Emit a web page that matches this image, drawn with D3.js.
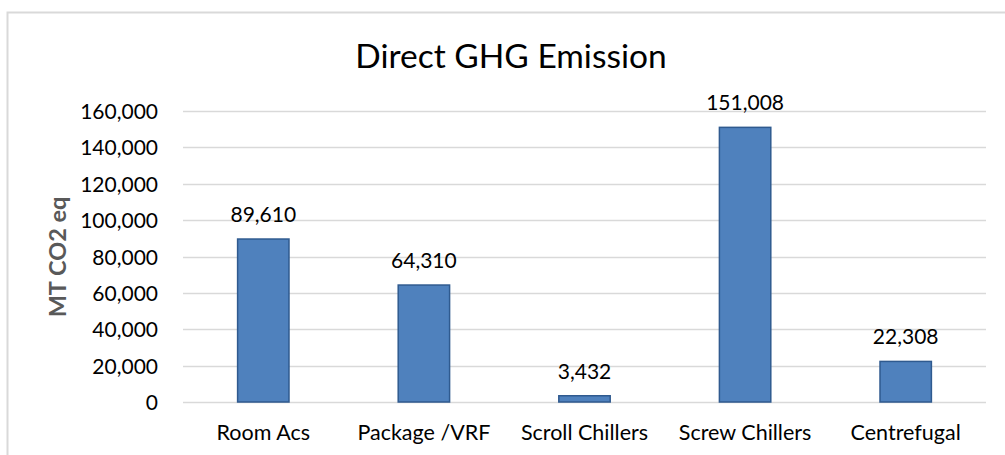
<!DOCTYPE html>
<html><head><meta charset="utf-8">
<script src="https://cdn.jsdelivr.net/npm/d3@7"></script>
<style>html,body{margin:0;padding:0;background:#fff;}svg{display:block;}</style>
</head><body>
<svg id="chart" width="1005" height="455"></svg>
<script>
const categories = ["Room Acs", "Package /VRF", "Scroll Chillers", "Screw Chillers", "Centrefugal"];
const values = [89610, 64310, 3432, 151008, 22308];
const yTicks = [0, 20000, 40000, 60000, 80000, 100000, 120000, 140000, 160000];
const title = "Direct GHG Emission";
const yTitle = "MT CO2 eq";

const FONT = "Lato, 'Open Sans', sans-serif";
const svg = d3.select("#chart");
const m = {left: 183, right: 1005 - 986, top: 111, bottom: 455 - 402};
const W = 1005, H = 455;

// frame
svg.append("path").attr("d", `M7.5,${H}V12.5H${W}`).attr("fill","none").attr("stroke","#d9d9d9").attr("stroke-width",2);

const x = d3.scaleBand().domain(categories).range([m.left, W - m.right]).paddingInner(0.68).paddingOuter(0.34);
const y = d3.scaleLinear().domain([0, 160000]).range([H - m.bottom, m.top]);
const fmt = d3.format(",");

// gridlines
svg.append("g").selectAll("line").data(yTicks).join("line")
  .attr("x1", m.left).attr("x2", W - m.right)
  .attr("y1", d => Math.round(y(d)) + 0.5).attr("y2", d => Math.round(y(d)) + 0.5)
  .attr("stroke", "#d9d9d9").attr("stroke-width", 1.3);

// y axis labels
const yAxis = d3.axisLeft(y).tickValues(yTicks).tickFormat(fmt).tickSize(0).tickPadding(0);
const ga = svg.append("g").attr("transform", `translate(158,0)`).call(yAxis);
ga.select(".domain").remove();
ga.selectAll("text").attr("font-family", FONT).attr("font-size", 21).attr("fill", "#000").attr("dy", "0.36em");

// x axis labels
const xAxis = d3.axisBottom(x).tickSize(0).tickPadding(0);
const gx = svg.append("g").attr("transform", `translate(0,${H - m.bottom})`).call(xAxis);
gx.select(".domain").remove();
gx.selectAll("text").attr("font-family", FONT).attr("font-size", 21.5).attr("fill", "#000").attr("dy", null).attr("y", 38);

// bars
svg.append("g").selectAll("rect").data(values).join("rect")
  .attr("x", (d, i) => x(categories[i]))
  .attr("width", x.bandwidth())
  .attr("y", d => y(d))
  .attr("height", d => y(0) - y(d))
  .attr("fill", "#4f81bd").attr("stroke", "#2f5a8f").attr("stroke-width", 1.5);

// data labels
svg.append("g").selectAll("text").data(values).join("text")
  .attr("x", (d, i) => x(categories[i]) + x.bandwidth() / 2)
  .attr("y", d => y(d) - 17)
  .attr("text-anchor", "middle").attr("font-family", FONT).attr("font-size", 21).attr("fill", "#000")
  .text(d => fmt(d));

// title
svg.append("text").attr("x", 511).attr("y", 68).attr("text-anchor", "middle")
  .attr("font-family", FONT).attr("font-size", 33.5).attr("fill", "#000").text(title);

// y title
svg.append("text").attr("transform", `translate(66,257) rotate(-90)`).attr("text-anchor", "middle")
  .attr("font-family", FONT).attr("font-weight", "bold").attr("font-size", 23.5).attr("fill", "#595959").text(yTitle);
</script>
</body></html>
